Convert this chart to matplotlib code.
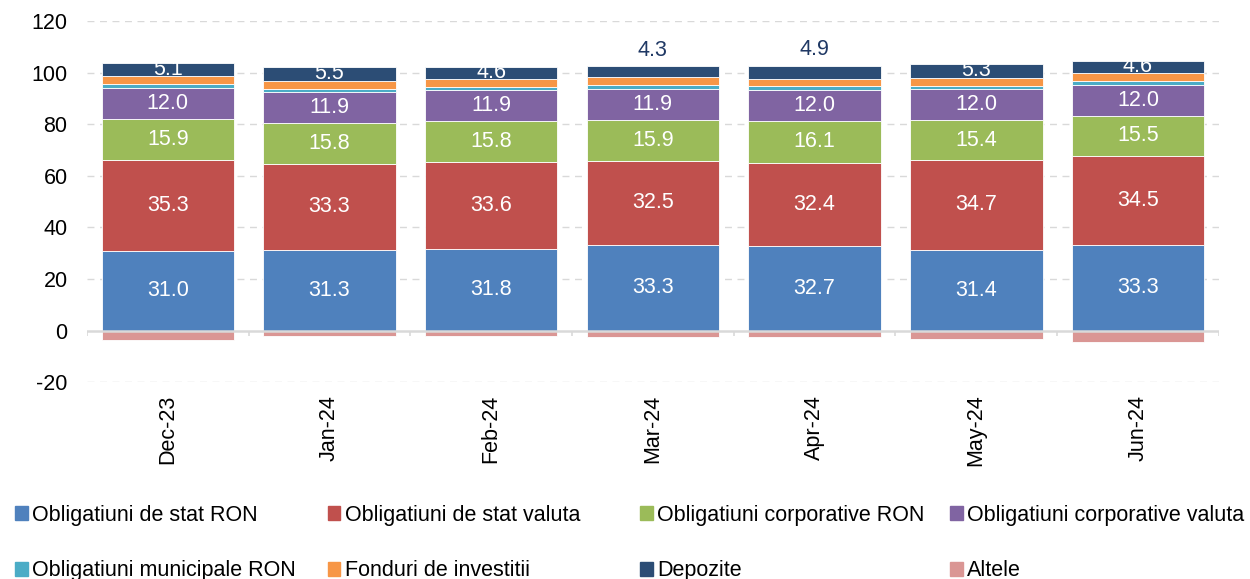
import matplotlib
matplotlib.use("Agg")
import matplotlib.pyplot as plt
import numpy as np
from matplotlib.patches import Patch

plt.rcParams['font.family'] = ['Liberation Sans', 'DejaVu Sans']
plt.rcParams['axes.unicode_minus'] = False

categories = ["Dec-23", "Jan-24", "Feb-24", "Mar-24", "Apr-24", "May-24", "Jun-24"]
stat_ron = [31.0, 31.3, 31.8, 33.3, 32.7, 31.4, 33.3]
stat_valuta = [35.3, 33.3, 33.6, 32.5, 32.4, 34.7, 34.5]
corp_ron = [15.9, 15.8, 15.8, 15.9, 16.1, 15.4, 15.5]
corp_valuta = [12.0, 11.9, 11.9, 11.9, 12.0, 12.0, 12.0]
municipale_ron = [1.5, 1.4, 1.5, 1.5, 1.5, 1.5, 1.5]
fonduri = [3.1, 3.1, 3.0, 3.1, 3.0, 3.1, 3.2]
depozite = [5.1, 5.5, 4.6, 4.3, 4.9, 5.3, 4.6]
altele = [-3.8, -2.3, -2.3, -2.5, -2.5, -3.3, -4.5]
depozite_label_above = ["Mar-24", "Apr-24"]

series = [
    ("Obligatiuni de stat RON", stat_ron, "#4F81BD", True),
    ("Obligatiuni de stat valuta", stat_valuta, "#C0504D", True),
    ("Obligatiuni corporative RON", corp_ron, "#9BBB59", True),
    ("Obligatiuni corporative valuta", corp_valuta, "#8064A2", True),
    ("Obligatiuni municipale RON", municipale_ron, "#4BACC6", False),
    ("Fonduri de investitii", fonduri, "#F79646", False),
    ("Depozite", depozite, "#2C4D75", True),
]
altele_color = "#DA9694"
FS = 15.5

fig = plt.figure(figsize=(12.5, 5.79), dpi=100)
ax = fig.add_axes([0.0696, 0.340, 0.9054, 0.6237])

x = np.arange(len(categories))
width = 0.82
bottom = np.zeros(len(categories))
for name, vals, color, show in series:
    vals = np.array(vals)
    ax.bar(x, vals, width, bottom=bottom, color=color, edgecolor="white",
           linewidth=0.6, label=name, zorder=3)
    if show:
        for i, v in enumerate(vals):
            if name == "Depozite" and categories[i] in depozite_label_above:
                ax.text(x[i], bottom[i] + v + 6.2, f"{v:.1f}", ha="center",
                        va="center", fontsize=FS, color="#1F3864", zorder=5)
            else:
                ax.text(x[i], bottom[i] + v / 2, f"{v:.1f}", ha="center",
                        va="center", fontsize=FS, color="white", zorder=5)
    bottom = bottom + vals
ax.bar(x, altele, width, color=altele_color, edgecolor="white", linewidth=0.6,
       label="Altele", zorder=3)

ax.set_xlim(-0.5, len(categories) - 0.5)
ax.set_ylim(-20, 120)
ax.set_yticks(np.arange(-20, 121, 20))
ax.tick_params(axis='y', length=0, labelsize=FS, pad=14)
ax.set_xticks(x)
ax.set_xticklabels(categories, rotation=90, fontsize=FS)
ax.tick_params(axis='x', length=0, pad=9)
for s in ax.spines.values():
    s.set_visible(False)
for yv in [-20, 20, 40, 60, 80, 100, 120]:
    ax.axhline(yv, color="#D9D9D9", lw=1, ls=(0, (5, 4)), zorder=1)
ax.axhline(0, color="#D9D9D9", lw=1.8, zorder=4)
ax.vlines(np.arange(len(categories) + 1) - 0.5, -2.0, 0, color="#D9D9D9",
          lw=1.2, zorder=4)

handles = [Patch(color=c) for _, _, c, _ in series] + [Patch(color=altele_color)]
labels = [n for n, _, _, _ in series] + ["Altele"]
col_x = [0.012, 0.262, 0.512, 0.760]
for c in range(4):
    fig.legend([handles[c], handles[c + 4]], [labels[c], labels[c + 4]],
               loc="upper left", bbox_to_anchor=(col_x[c], 0.128),
               frameon=False, fontsize=FS, handlelength=0.6,
               handleheight=0.6, handletextpad=0.2, labelspacing=1.6,
               borderaxespad=0, borderpad=0)

fig.savefig("out.png", dpi=100)
